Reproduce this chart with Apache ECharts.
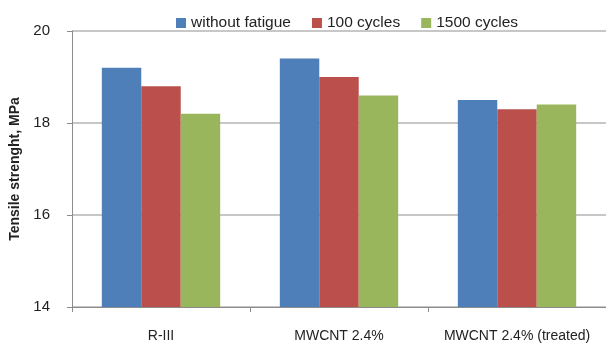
<!DOCTYPE html>
<html>
<head>
<meta charset="utf-8">
<script src="https://cdn.jsdelivr.net/npm/echarts@6/dist/echarts.min.js"></script>
<style>
  html, body { margin: 0; padding: 0; background: #fff; }
  #chart { width: 606px; height: 344px; }
</style>
</head>
<body>
<div id="chart"></div>
<script>
// Tensile strength of the three materials after fatigue loading
const categories = ['R-III', 'MWCNT 2.4%', 'MWCNT 2.4% (treated)'];
const withoutFatigue = [19.2, 19.4, 18.5];
const cycles100 = [18.8, 19.0, 18.3];
const cycles1500 = [18.2, 18.6, 18.4];
const yTicks = [14, 16, 18, 20];

const font = 'Liberation Sans, Arial, sans-serif';
const chart = echarts.init(document.getElementById('chart'));

chart.setOption({
  animation: false,
  textStyle: { fontFamily: font },
  legend: {
    top: 10,
    left: 171,
    itemWidth: 10,
    itemHeight: 10,
    itemGap: 21,
    icon: 'rect',
    textStyle: { fontSize: 15.5, color: '#222', fontFamily: font }
  },
  grid: { left: 72, right: -2, top: 31, bottom: 37, containLabel: false },
  xAxis: {
    type: 'category',
    data: categories,
    axisLine: { lineStyle: { color: '#8c8c8c', width: 1 } },
    axisTick: { show: true, length: 5, alignWithLabel: false, lineStyle: { color: '#8c8c8c' } },
    axisLabel: { interval: 0, hideOverlap: false, fontSize: 14, color: '#222', margin: 22, fontFamily: font }
  },
  yAxis: {
    type: 'value',
    min: yTicks[0],
    max: yTicks[yTicks.length - 1],
    interval: 2,
    name: 'Tensile strenght, MPa',
    nameLocation: 'middle',
    nameGap: 48,
    nameTextStyle: { fontSize: 14, fontWeight: 'bold', color: '#222', fontFamily: font },
    axisLine: { show: true, lineStyle: { color: '#8c8c8c', width: 1 } },
    axisTick: { show: true, length: 5, lineStyle: { color: '#8c8c8c' } },
    axisLabel: { fontSize: 15, color: '#222', margin: 22, fontFamily: font },
    splitLine: { show: true, lineStyle: { color: '#b4b4b4', width: 1.5 } }
  },
  series: [
    { name: 'without fatigue', type: 'bar', data: withoutFatigue, itemStyle: { color: '#4f7fb8' }, barGap: '0%', barCategoryGap: '33.5%' },
    { name: '100 cycles', type: 'bar', data: cycles100, itemStyle: { color: '#ba4f4c' } },
    { name: '1500 cycles', type: 'bar', data: cycles1500, itemStyle: { color: '#9ab65c' } }
  ]
});
</script>
</body>
</html>
